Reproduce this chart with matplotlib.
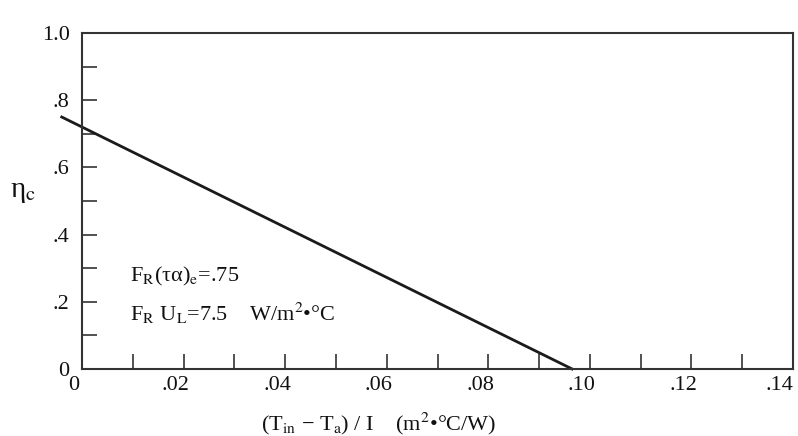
import numpy as np
import matplotlib
matplotlib.use("Agg")
import matplotlib.pyplot as plt
import matplotlib.transforms as mtransforms

plt.rcParams['font.family'] = ['Liberation Serif', 'DejaVu Serif']
plt.rcParams['mathtext.fontset'] = 'stix'

# Données : droite de rendement du capteur
x_line = [-0.004, 0.0965]
eta_line = [0.75, 0.0]

x_ticks = [0, 0.02, 0.04, 0.06, 0.08, 0.10, 0.12, 0.14]
x_labels = ["0", ".02", ".04", ".06", ".08", ".10", ".12", ".14"]
y_ticks = [0, 0.2, 0.4, 0.6, 0.8, 1.0]
y_labels = ["0", ".2", ".4", ".6", ".8", "1.0"]

fig = plt.figure(figsize=(7.98, 4.36), dpi=100)
ax = fig.add_axes([0.1028, 0.1537, 0.891, 0.7706])

ax.plot(x_line, eta_line, '-', color='#1a1a1a', lw=2, clip_on=False)

ax.set_xlim(0, 0.14)
ax.set_ylim(0, 1.0)
ax.set_xticks(x_ticks)
ax.set_xticklabels(x_labels)
ax.set_yticks(y_ticks)
ax.set_yticklabels(y_labels)
ax.set_xticks(np.arange(0.01, 0.14, 0.02), minor=True)
ax.set_yticks(np.arange(0.1, 1.0, 0.2), minor=True)
ax.tick_params(which='both', direction='in', length=11, width=1.2,
               color='#333333', labelsize=16, labelcolor='#111111')
ax.tick_params(axis='x', pad=5)
ax.tick_params(axis='y', pad=9)
for s in ax.spines.values():
    s.set_linewidth(1.5)
    s.set_color('#333333')

# étiquettes de l'axe x légèrement décalées vers la gauche
decal = mtransforms.ScaledTranslation(-8 / 100, 0, fig.dpi_scale_trans)
for lab in ax.get_xticklabels():
    lab.set_transform(lab.get_transform() + decal)
ax.get_xticklabels()[-1].set_horizontalalignment('right')
ax.get_xticklabels()[-1].set_transform(
    ax.get_xticklabels()[-1].get_transform()
    + mtransforms.ScaledTranslation(8 / 100, 0, fig.dpi_scale_trans))

ax.text(0.0095, 0.275, r'F$_\mathrm{R}$(τα)$_\mathrm{e}$=.75', fontsize=16,
        color='#111111', va='center')
ax.text(0.0095, 0.165, r'F$_\mathrm{R}$ U$_\mathrm{L}$=7.5    W/m$^2$•°C',
        fontsize=16, color='#111111', va='center')

fig.text(0.012, 0.56, r'η$_\mathrm{c}$', fontsize=21, color='#111111',
         va='center')
fig.text(0.475, 0.014, r'(T$_\mathrm{in}$ − T$_\mathrm{a}$) / I    (m$^2$•°C/W)',
         fontsize=16, color='#111111', ha='center', va='baseline')

fig.savefig('out.png', dpi=100)
